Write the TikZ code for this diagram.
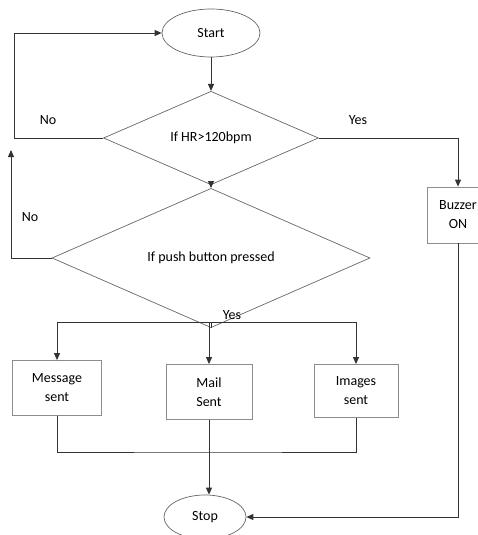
\documentclass[tikz,border=0pt]{standalone}
\usepackage{fontspec}
\setmainfont{Carlito}
\usetikzlibrary{shapes.geometric,arrows.meta}

\tikzset{
  flow/.style={draw=black!80, line width=0.9pt},
  arr/.style={flow, -{Triangle[width=6pt,length=7pt]}},
  term/.style={ellipse, draw=black!60, line width=0.7pt, inner sep=0pt, font=\fontsize{14}{16}\selectfont},
  decide/.style={diamond, draw=black!60, line width=0.7pt, inner sep=0pt, font=\fontsize{14}{16}\selectfont},
  act/.style={rectangle, draw=black!45, line width=0.8pt, align=center, inner sep=0pt, font=\fontsize{14}{19}\selectfont},
  lbl/.style={font=\fontsize{14}{16}\selectfont, inner sep=0pt}
}

\begin{document}
\begin{tikzpicture}[x=1pt, y=-1pt]

  %% canvas
  \path[use as bounding box] (0,0) rectangle (478,535);

  %% nodes
  \node[term, minimum width=98pt, minimum height=48pt] (start) at (211,33) {Start};
  \node[decide, minimum width=215pt, minimum height=64pt] (hr) at (211,138) {If HR>120bpm};
  \node[decide, minimum width=318pt, minimum height=76pt] (push) at (211,258) {If push button pressed};
  \node[act, minimum width=62pt, minimum height=56pt] (buzzer) at (458,215) {Buzzer\\ON};
  \node[act, minimum width=89pt, minimum height=55pt] (msg) at (57,388) {Message\\sent};
  \node[act, minimum width=86pt, minimum height=55pt] (mail) at (209,392) {Mail\\Sent};
  \node[act, minimum width=84pt, minimum height=53pt] (img) at (356,391) {Images\\sent};
  \node[term, minimum width=82pt, minimum height=44pt] (stop) at (205,517) {Stop};

  %% labels
  \node[lbl] (no1) at (48,120) {No};
  \node[lbl] (yes1) at (358,120) {Yes};
  \node[lbl] (no2) at (30,217) {No};
  \node[lbl] (yes2) at (232,315) {Yes};

  %% helper points
  \coordinate (split) at (211,322);
  \coordinate (join) at (209,452);
  \coordinate (up) at (11,150);

  %% connectors
  \draw[arr] (start) -- (hr);
  \draw[arr] (hr.west) -- ++(-89,0) |- (start.west);
  \draw[arr] (hr.east) -| (buzzer.north);
  \draw[arr] (hr) -- (push);
  \draw[arr] (push.west) -| (up);
  \draw[flow] (push.south) -- (split);
  \draw[flow] (msg.north |- split) -- (img.north |- split);
  \draw[arr] (msg.north |- split) -- (msg.north);
  \draw[arr] (mail.north |- split) -- (mail.north);
  \draw[arr] (img.north |- split) -- (img.north);
  \draw[flow] (msg.south) |- (join) -| (img.south);
  \draw[arr] (mail.south) -- (mail.south |- stop.north);
  \draw[arr] (buzzer.south) |- (stop.east);

\end{tikzpicture}
\end{document}
